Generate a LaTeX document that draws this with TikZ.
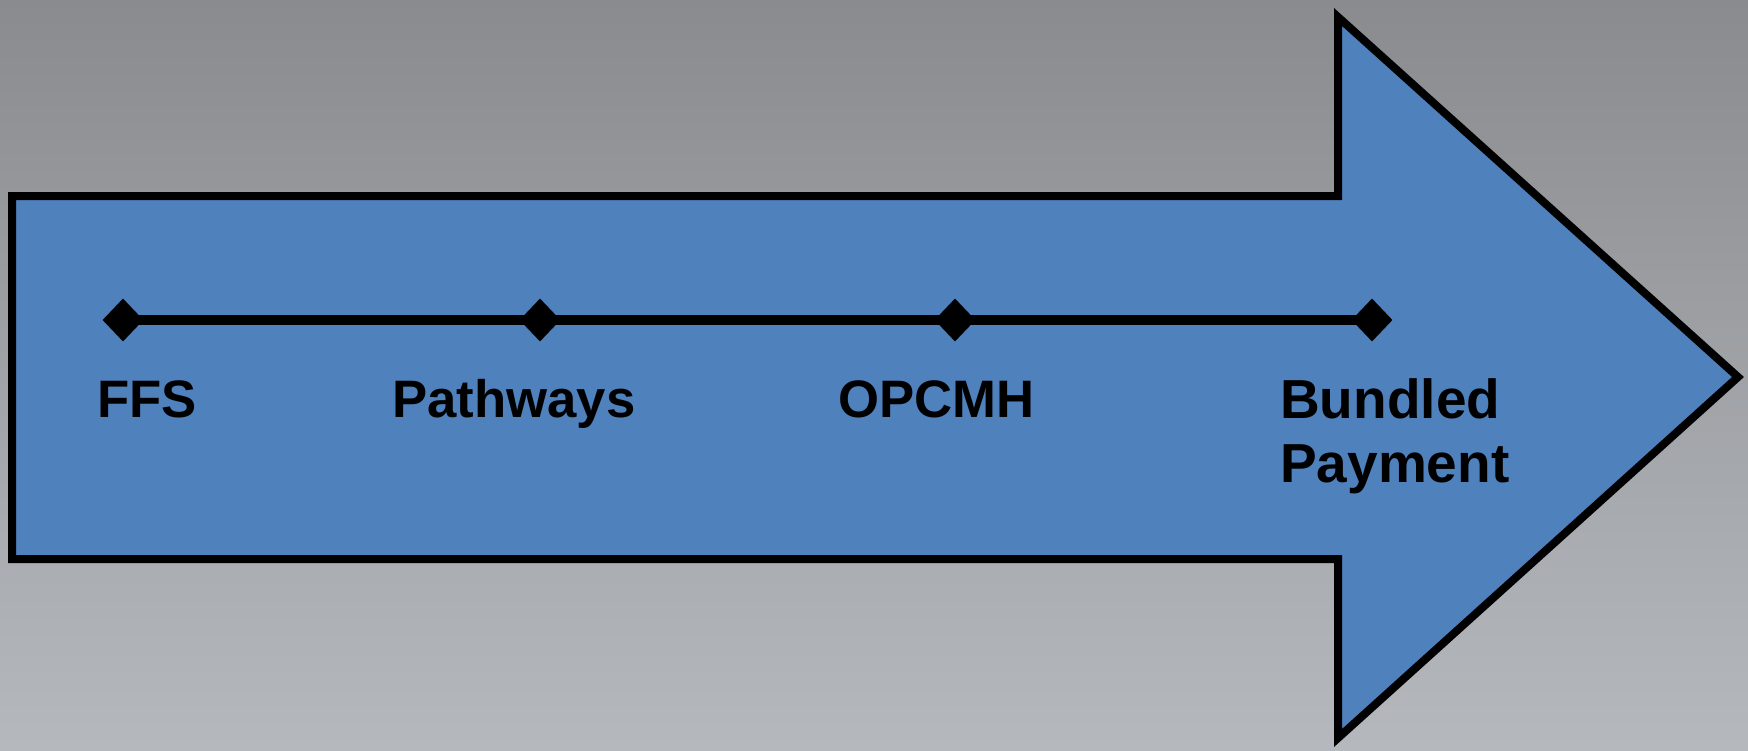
\documentclass[tikz,border=0pt]{standalone}
\usepackage{fontspec}
\setmainfont{Liberation Sans}
\usetikzlibrary{shapes.geometric}
\definecolor{arrowblue}{HTML}{4F81BD}
\definecolor{bgtop}{HTML}{8A8B8F}
\definecolor{bgbot}{HTML}{B5B9BD}
\tikzset{
  bigarrow/.style={draw=black, line width=8pt, fill=arrowblue, line join=miter},
  milestone/.style={diamond, fill=black, inner sep=0pt, minimum width=41pt, minimum height=43pt},
  timeline/.style={draw=black, line width=10pt},
  lbl/.style={anchor=base west, inner sep=0pt, font=\fontsize{52.7}{64}\selectfont\bfseries},
  lbltwo/.style={anchor=north west, inner sep=0pt, align=left, font=\fontsize{55}{64}\selectfont\bfseries}
}
\begin{document}
\begin{tikzpicture}[x=1pt,y=-1pt]
\useasboundingbox (0,0) rectangle (1748,750);
\shade[top color=bgtop, bottom color=bgbot] (0,0) rectangle (1748,750);
\draw[bigarrow] (12,196) -- (1338,196) -- (1338,17) -- (1738,377) -- (1338,738) -- (1338,559) -- (12,559) -- cycle;
\coordinate (s) at (123,320);
\coordinate (e) at (1372,320);
\draw[timeline] (s) -- (e);
\node[milestone] (d1) at (123,320) {};
\node[milestone] (d2) at (540,320) {};
\node[milestone] (d3) at (955,320) {};
\node[milestone] (d4) at (1372,320) {};
\node[lbl] (ffs) at (97,417) {FFS};
\node[lbl] (path) at (392,417) {Pathways};
\node[lbl] (opc) at (838,417) {OPCMH};
\node[lbltwo] (bund) at (1280,378) {Bundled\\Payment};
\end{tikzpicture}
\end{document}
